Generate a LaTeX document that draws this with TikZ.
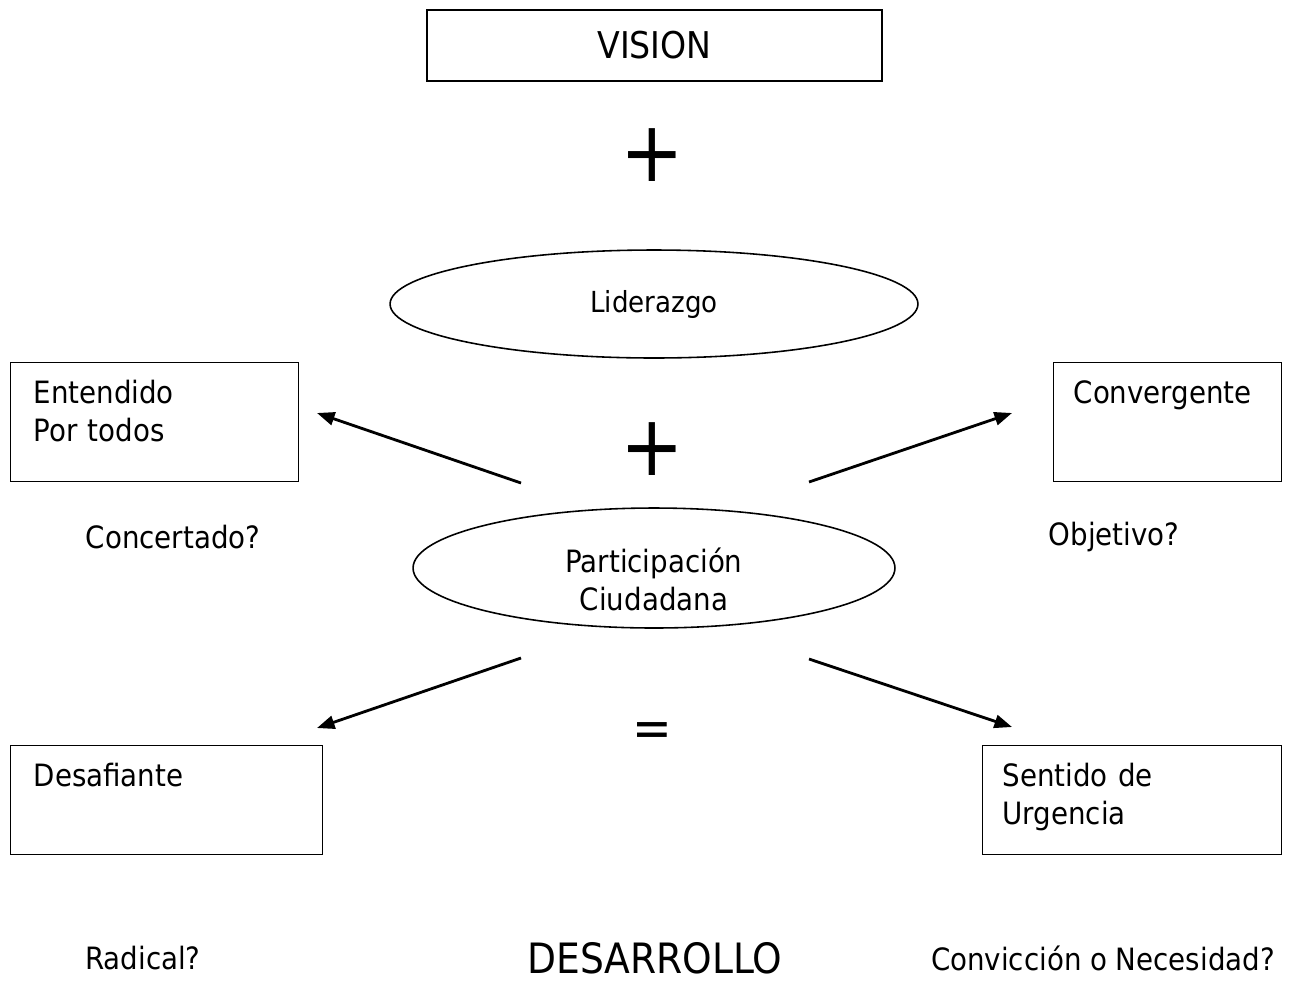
\documentclass[tikz,border=0pt]{standalone}
\usepackage{fontspec}
\setmainfont{DejaVu Sans Condensed}
\usepackage{tikz}
\usetikzlibrary{arrows.meta,positioning,shapes.geometric}

\begin{document}
\begin{tikzpicture}[
    x=0.02cm, y=-0.02cm,
    font=\fontsize{17.5}{21.5}\selectfont,
    titlebox/.style={rectangle, draw=black, line width=0.8pt, minimum width=9.1cm, minimum height=1.42cm, inner sep=0pt},
    textbox/.style={rectangle, draw=black, line width=0.8pt, align=left, inner ysep=0pt, text height=0.82cm},
    oval/.style={ellipse, draw=black, line width=0.9pt, inner sep=0pt, align=center},
    plus/.style={font=\fontsize{48}{48}\selectfont, inner sep=0pt},
    arrow/.style={line width=1.6pt, -{Triangle[length=10pt,width=7.5pt]}}
]
\useasboundingbox (0,0) rectangle (1293,981);

\node (vision) [titlebox, font=\fontsize{21}{24}\selectfont] at (654.5,45.5) {VISION};
\node (plusa) [plus] at (652,155) {+};
\node (lider) [oval, minimum width=10.56cm, minimum height=2.16cm, font=\fontsize{16.5}{20}\selectfont] at (654,304) {Liderazgo};
\node (plusb) [plus] at (652,449) {+};
\node (partic) [oval, minimum width=9.64cm, minimum height=2.4cm, text height=1.68cm, text depth=-0.48cm] at (654,568) {Participación\\Ciudadana};
\node (equal) [font=\fontsize{30}{30}\selectfont, inner sep=0pt] at (652,735) {=};

% cajas laterales
\node (entend) [textbox, anchor=north west, text width=4.84cm, inner xsep=0.46cm, text depth=1.56cm] at (10,362) {Entendido\\Por todos};
\node (conver) [textbox, anchor=north west, text width=3.76cm, inner xsep=0.4cm, text depth=1.56cm] at (1053,362) {Convergente};
\node (desaf) [textbox, anchor=north west, text width=5.32cm, inner xsep=0.46cm, text depth=1.36cm] at (10,745) {Desafiante};
\node (urgen) [textbox, anchor=north west, text width=5.18cm, inner xsep=0.4cm, text depth=1.36cm] at (982,745) {Sentido de\\Urgencia};

% preguntas
\node (concer) at (173,537) {Concertado?};
\node (objet) at (1114,537) {Objetivo?};
\node (radic) at (143,958) {Radical?};
\node (desar) [font=\fontsize{23.8}{26}\selectfont] at (655,958) {DESARROLLO};
\node (convic) at (1103,958) {Convicción o Necesidad?};

% flechas
\coordinate (ul) at (521,483);
\coordinate (ur) at (809,482);
\coordinate (ll) at (521,658);
\coordinate (lr) at (809,659);
\coordinate (ula) at (317,413);
\coordinate (ura) at (1012,413);
\coordinate (lla) at (317,728);
\coordinate (lra) at (1012,727);

\draw [arrow] (ul) -- (ula);
\draw [arrow] (ur) -- (ura);
\draw [arrow] (ll) -- (lla);
\draw [arrow] (lr) -- (lra);

\end{tikzpicture}
\end{document}
